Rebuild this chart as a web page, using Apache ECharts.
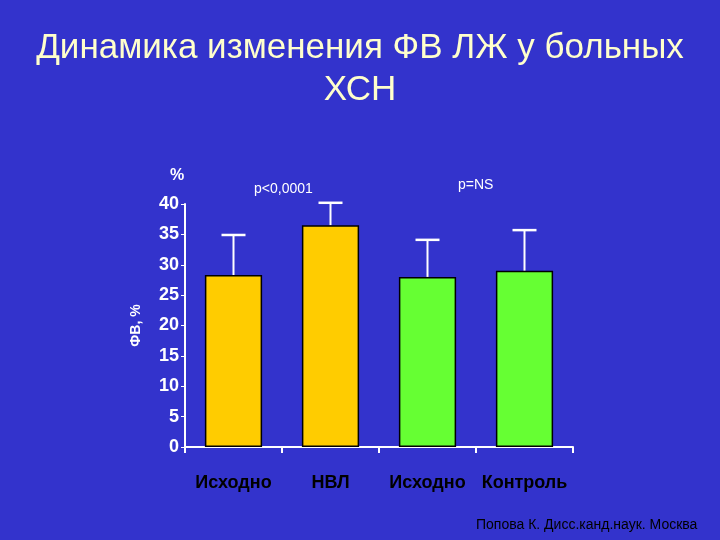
<!DOCTYPE html><html><head><meta charset="utf-8"><script src="https://cdn.jsdelivr.net/npm/echarts@6/dist/echarts.min.js"></script></head><body style="margin:0;background:#3333cc"><div id="c" style="width:720px;height:540px"></div><script>
const categories=['Исходно','НВЛ','Исходно','Контроль'];
const values=[28.3,36.5,28.0,29.0];
const errTop=[34.9,40.2,34.1,35.7];
const colors=['#ffcc00','#ffcc00','#66ff33','#66ff33'];
const ch=echarts.init(document.getElementById('c'));
ch.setOption({backgroundColor:'#3333cc',
title:{text:'Динамика изменения ФВ ЛЖ у больных\nХСН',left:'center',top:22,textStyle:{color:'#ffffcc',fontSize:35,fontWeight:'normal',fontFamily:'Liberation Sans',lineHeight:42,textShadowColor:'#000',textShadowBlur:0,textShadowOffsetX:2,textShadowOffsetY:2}},
grid:{left:185,right:147,top:204,bottom:93},
xAxis:{type:'category',data:categories,axisLine:{lineStyle:{color:'#fff',width:2}},axisTick:{show:true,length:6,lineStyle:{color:'#fff',width:2}},axisLabel:{interval:0,color:'#000',fontSize:18,fontWeight:'bold',fontFamily:'Liberation Sans',margin:27}},
yAxis:{type:'value',min:0,max:40,interval:5,splitLine:{show:false},axisLine:{show:true,lineStyle:{color:'#fff',width:2}},axisTick:{show:true,length:4,lineStyle:{color:'#fff'}},axisLabel:{color:'#fff',fontSize:18,fontWeight:'bold',fontFamily:'Liberation Sans',margin:6},
name:'ФВ, %',nameLocation:'middle',nameGap:42,nameRotate:90,nameTextStyle:{color:'#fff',fontSize:14,fontWeight:'bold',fontFamily:'Liberation Sans'}},
series:[{type:'bar',barWidth:'59%',data:values.map((v,i)=>({value:v,itemStyle:{color:colors[i],borderColor:'#000',borderWidth:1.5}})),z:3},
{type:'custom',z:2,data:values.map((v,i)=>[i,v,errTop[i]]),renderItem:(p,api)=>{const a=api.coord([api.value(0),api.value(1)]),b=api.coord([api.value(0),api.value(2)]);return{type:'group',children:[{type:'line',shape:{x1:a[0],y1:a[1],x2:b[0],y2:b[1]},style:{stroke:'#fff',lineWidth:2}},{type:'line',shape:{x1:b[0]-12,y1:b[1],x2:b[0]+12,y2:b[1]},style:{stroke:'#fff',lineWidth:2.5}}]}}}],
graphic:[{type:'text',left:170,top:168,style:{text:'%',fill:'#fff',font:'bold 16px Liberation Sans'}},
{type:'text',left:254,top:182,style:{text:'p<0,0001',fill:'#fff',font:'14px Liberation Sans'}},
{type:'text',left:458,top:178,style:{text:'p=NS',fill:'#fff',font:'14px Liberation Sans'}},
{type:'text',left:476,top:518,style:{text:'Попова К. Дисс.канд.наук. Москва',fill:'#000',font:'14px Liberation Sans'}}]});
</script></body></html>
